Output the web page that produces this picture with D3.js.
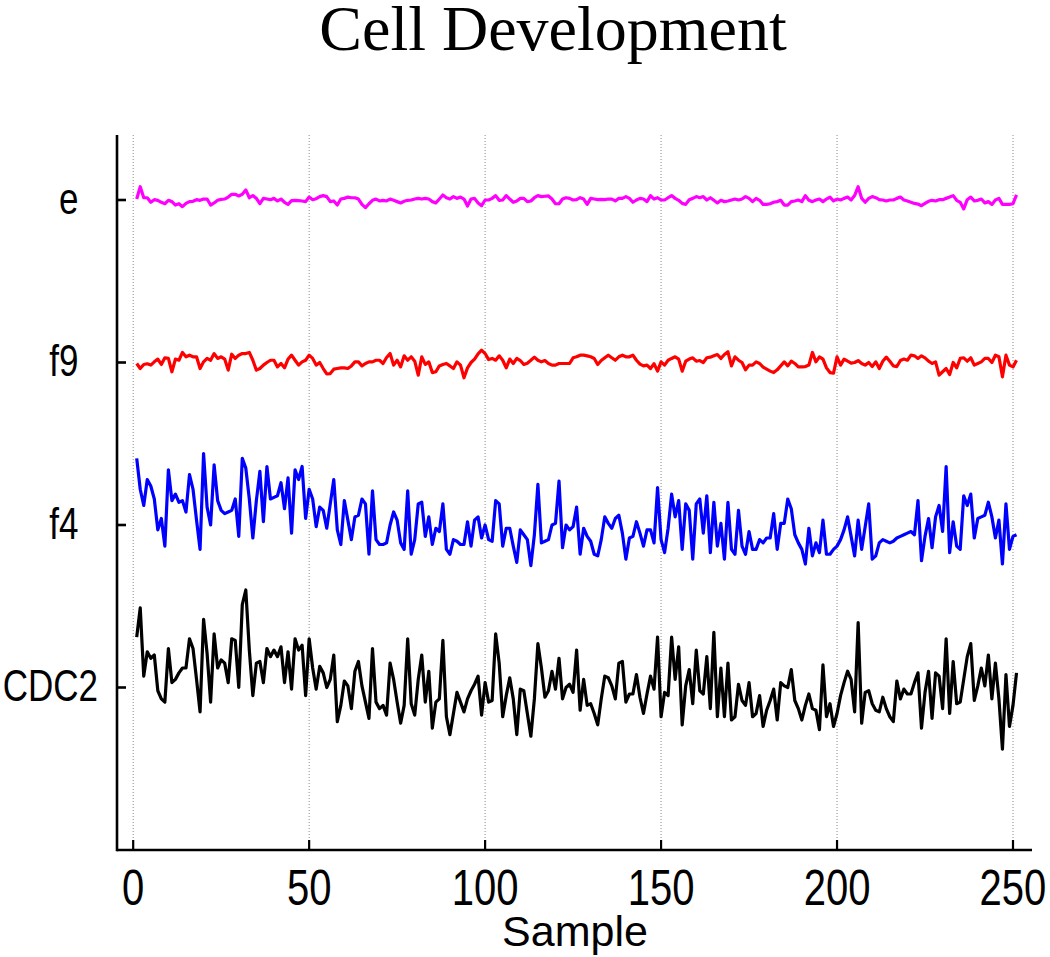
<!DOCTYPE html>
<html>
<head>
<meta charset="utf-8">
<script src="https://cdn.jsdelivr.net/npm/d3@7"></script>
<style>
  html, body { margin: 0; padding: 0; background: #fff; }
  svg { display: block; }
</style>
</head>
<body>
<svg id="chart" width="1050" height="957"></svg>
<script>
// ---------------- data ----------------
const title = "Cell Development";
const xLabel = "Sample";
const xTicks = [0, 50, 100, 150, 200, 250];
const yLevels = [1, 2, 3, 4];
const yTickLabels = ["CDC2", "f4  ", "f9  ", "e  "];
const seriesNames = ["e", "f9", "f4", "CDC2"];
const seriesColors = ["#ff00ff", "#ff0000", "#0000ff", "#000000"];

const eValues = [
4.006,4.082,4.014,4.014,3.986,4.002,3.998,3.986,3.977,3.998,
3.990,3.969,3.977,3.959,3.979,3.990,3.992,4.002,3.998,4.006,
4.006,3.969,3.982,3.998,4.004,4.006,4.018,4.035,4.035,4.025,
4.035,4.062,4.014,4.027,4.010,3.977,4.010,4.006,4.002,4.010,
3.994,4.006,3.986,3.973,3.996,3.998,3.996,3.994,3.990,4.018,
4.002,4.008,4.021,4.027,4.021,3.990,3.994,3.969,4.006,4.010,
4.018,4.014,4.014,4.006,3.973,3.953,3.977,3.998,4.006,3.994,
3.998,3.994,4.006,3.998,3.990,3.982,3.992,3.998,4.000,4.006,
4.010,4.006,4.010,4.006,3.990,3.982,4.006,4.031,4.014,4.006,
4.021,4.010,4.018,4.006,3.963,4.006,4.010,3.982,3.965,4.000,
4.000,4.010,4.027,3.998,4.000,4.027,4.006,3.986,3.994,4.010,
4.010,3.990,3.994,4.014,4.027,4.021,4.023,4.025,4.006,3.977,
3.977,4.006,4.014,4.010,4.000,
4.002,4.014,4.006,3.973,4.010,4.006,4.002,4.004,4.002,4.006,
4.006,3.994,4.010,4.010,4.021,4.010,3.986,4.000,4.010,4.006,
3.990,4.027,4.006,4.014,4.000,4.000,4.014,4.027,4.010,3.998,
3.979,3.973,4.002,4.010,4.021,4.014,4.021,4.000,4.014,3.998,
3.982,3.998,3.990,3.994,4.000,4.006,4.000,4.006,4.021,4.010,
3.990,4.010,3.998,3.973,3.973,3.977,3.986,3.990,3.998,3.969,
3.969,3.990,3.994,4.000,3.990,4.027,3.998,3.990,4.000,4.006,
3.990,4.006,4.018,3.994,4.006,4.000,4.010,4.018,4.000,4.027,
4.082,4.010,3.986,4.010,4.021,4.014,4.002,4.000,3.994,4.000,
4.000,4.010,4.018,4.000,3.994,3.986,3.979,3.975,3.965,3.979,
3.992,3.998,3.994,4.002,4.002,4.010,4.018,4.027,3.998,3.986,
3.945,4.002,4.018,3.994,3.998,4.006,3.982,3.990,3.973,4.000,
4.010,3.973,3.973,3.973,3.977,4.031
];

const f9Values = [
2.994,2.963,2.988,2.992,2.984,3.004,3.021,2.988,3.029,3.025,
2.943,3.021,3.014,3.062,3.035,3.045,3.035,3.035,2.963,3.004,
3.025,3.014,3.055,3.025,3.035,3.021,2.953,3.051,3.025,3.045,
3.055,3.055,3.062,3.014,2.953,2.963,2.984,3.000,3.014,3.014,
2.973,2.994,2.967,3.021,3.045,3.014,2.984,3.004,3.014,3.045,
3.025,2.984,3.000,2.963,2.930,2.932,2.959,2.963,2.967,2.967,
2.963,2.979,3.004,3.004,2.979,2.994,3.004,3.004,3.014,3.014,
2.994,3.031,3.055,2.984,3.014,2.973,3.041,3.014,3.035,3.008,
2.922,3.035,2.988,3.004,2.938,2.943,2.979,2.988,2.994,2.979,
2.963,3.004,2.984,2.906,2.967,3.000,3.021,3.053,3.076,3.055,
3.018,3.025,3.014,3.041,3.014,2.967,3.021,2.994,3.025,3.012,
2.988,2.996,3.014,3.033,3.014,3.004,3.012,2.994,2.984,2.984,
2.994,2.994,2.994,2.994,3.029,
3.035,3.045,3.045,3.041,3.035,3.025,2.988,3.012,3.029,3.045,
3.029,3.014,3.035,3.045,3.035,3.035,3.045,3.014,2.990,2.979,
2.984,2.963,2.992,2.947,3.004,2.984,3.014,3.025,3.035,3.021,
2.947,3.008,3.021,3.029,3.008,3.012,3.000,3.029,3.033,3.041,
3.049,3.025,3.049,3.066,2.979,3.035,3.014,3.000,2.955,2.984,
2.984,3.004,2.994,2.971,2.959,2.947,2.938,2.955,2.979,3.004,
2.979,3.008,2.994,2.973,2.973,2.975,2.984,3.062,3.004,3.035,
3.021,2.967,2.938,2.934,3.035,2.984,3.021,3.008,2.996,3.000,
3.012,2.994,2.984,3.000,2.975,3.004,2.963,3.008,3.033,3.008,
2.979,2.975,3.012,3.021,3.014,3.045,3.041,3.025,3.041,3.029,
3.008,2.994,3.004,2.922,2.943,2.963,2.926,3.000,2.967,3.025,
3.029,3.008,3.029,2.984,2.994,3.004,3.025,3.025,3.000,3.045,
3.035,2.912,3.045,2.984,2.973,3.014
];

const f4Values = [
2.41,2.22,2.12,2.28,2.24,2.16,1.97,2.04,1.87,2.34,
2.15,2.19,2.14,2.15,2.08,2.31,2.22,2.03,1.85,2.44,
2.11,2.00,2.37,2.15,2.09,2.07,2.08,2.09,2.16,1.93,
2.41,2.35,2.16,1.92,2.15,2.33,2.02,2.36,2.16,2.17,
2.18,2.26,2.10,2.29,1.95,2.34,2.28,2.36,2.04,2.22,
2.16,1.99,2.11,2.09,1.98,2.13,2.28,1.97,1.88,2.15,
2.03,1.91,2.05,2.06,2.16,2.13,1.82,2.21,1.91,1.88,
1.88,1.89,2.00,2.08,2.03,1.89,1.85,2.21,1.82,1.91,
2.13,2.14,
1.93,2.05,1.88,1.98,1.96,2.13,1.85,1.82,
1.91,1.90,1.88,1.88,2.02,1.87,2.03,2.05,1.92,2.00,
1.91,1.90,2.15,2.13,1.87,1.98,1.98,1.87,1.77,1.97,
1.94,1.91,1.75,1.94,2.25,1.89,1.90,1.91,2.00,2.01,
2.27,1.86,2.00,1.97,1.99,2.11,1.82,1.98,1.93,1.90,
1.82,1.81,1.91,2.05,2.01,1.98,2.04,2.06,1.95,1.79,
1.92,1.93,2.02,1.95,1.87,1.97,1.97,1.89,2.23,1.91,
1.83,1.98,2.19,2.05,2.15,1.85,2.13,2.09,1.79,2.13,
2.16,1.95,2.18,
1.83,2.14,1.87,2.01,1.79,2.14,1.85,
1.82,2.09,1.87,1.82,1.96,1.85,1.85,1.91,1.89,1.92,
1.92,2.07,1.85,2.01,2.01,2.16,2.10,1.94,1.89,1.85,
1.76,1.98,1.81,1.89,1.83,2.03,1.82,1.82,1.85,1.87,
1.91,1.97,2.05,1.93,1.81,2.03,1.85,1.99,2.13,1.79,
1.81,1.89,1.91,1.90,1.89,1.90,1.92,1.93,1.94,1.95,
1.96,1.94,2.15,1.78,1.93,2.04,1.86,2.05,2.12,1.96,
2.36,1.83,2.02,1.87,1.85,2.18,2.12,2.19,1.92,2.04,
2.05,2.06,2.14,2.05,1.92,2.03,1.76,2.13,1.85,1.93,1.94
];

const cdc2Values = [
1.31,1.49,1.07,1.22,1.18,1.20,0.98,0.93,0.91,1.24,
1.03,1.05,1.09,1.12,1.12,1.30,1.24,1.05,0.85,1.42,
1.21,0.91,1.33,1.12,1.17,1.15,1.03,1.30,1.29,1.00,
1.51,1.60,1.23,0.95,1.15,1.16,1.03,1.24,1.19,1.23,
1.19,1.25,1.03,1.22,0.99,1.30,1.23,1.26,0.95,1.30,
1.12,0.99,1.13,1.09,1.00,1.05,1.20,0.79,0.89,1.04,
1.01,0.87,1.10,1.16,1.01,0.91,0.81,1.24,0.91,0.87,
0.89,0.83,1.15,1.05,0.91,0.78,0.89,1.30,0.90,0.83,
1.05,1.20,
0.91,1.10,0.75,0.91,0.93,1.29,0.82,0.71,
0.84,0.97,0.91,0.85,0.93,0.98,1.02,1.07,0.83,1.03,
0.91,0.92,1.33,1.15,0.82,0.95,1.06,0.93,0.71,0.99,
0.98,0.84,0.70,0.93,1.27,1.12,0.94,0.98,1.10,0.99,
1.18,0.93,1.00,1.02,0.97,1.23,0.86,1.05,0.89,0.90,
0.84,0.77,0.93,1.07,1.06,1.01,0.93,1.15,1.16,0.91,
0.96,0.96,1.08,0.94,0.84,0.96,1.07,0.99,1.31,0.82,
0.97,0.95,1.31,1.05,1.25,0.77,1.01,1.11,0.90,1.23,
0.98,0.96,1.19,
0.87,1.34,0.82,1.12,0.82,1.15,0.80,
0.82,1.02,0.92,0.89,1.03,0.82,0.84,0.95,0.76,0.86,
0.92,0.99,0.80,1.03,1.01,1.00,1.11,0.92,0.87,0.80,
0.89,0.96,0.87,0.86,0.74,1.14,0.82,0.90,0.76,0.84,
0.95,1.03,1.10,1.05,0.85,1.40,0.78,0.97,0.98,0.90,
0.86,0.85,0.94,0.87,0.82,0.79,1.04,0.93,0.99,0.96,
0.96,1.03,1.09,0.75,0.97,1.10,0.81,1.09,1.07,0.87,
1.30,0.84,1.16,0.90,0.91,1.05,1.19,1.27,0.92,1.01,
1.12,1.01,1.20,0.93,1.15,0.93,0.62,1.08,0.76,0.89,1.09
];

const seriesValues = [eValues, f9Values, f4Values, cdc2Values];

// ---------------- drawing ----------------
const svg = d3.select("#chart");
const sans = "'Liberation Sans', Arial, Helvetica, sans-serif";
const serif = "'Liberation Serif', 'Times New Roman', Times, serif";

const x = d3.scaleLinear().domain([-4.6, 255.4]).range([117, 1032]);
const y = d3.scaleLinear().domain([0, 4.4]).range([850, 135]);

// title
svg.append("text")
  .attr("x", 553).attr("y", 50)
  .attr("text-anchor", "middle")
  .style("font-family", serif).style("font-size", "64px")
  .attr("fill", "#000")
  .text(title);

// vertical dotted grid
svg.append("g").selectAll("line").data(xTicks).join("line")
  .attr("x1", d => x(d)).attr("x2", d => x(d))
  .attr("y1", y(4.4)).attr("y2", y(0))
  .attr("stroke", "#8a8a8a").attr("stroke-width", 1)
  .attr("stroke-dasharray", "1,2");

// series lines
const line = d3.line()
  .x((d, i) => x(i + 1))
  .y(d => y(d));

svg.append("g").selectAll("path").data(seriesValues).join("path")
  .attr("d", d => line(d))
  .attr("fill", "none")
  .attr("stroke", (d, i) => seriesColors[i])
  .attr("stroke-width", 3.2)
  .attr("stroke-linejoin", "round");

// axes lines
const axisG = svg.append("g");
axisG.append("line")
  .attr("x1", x.range()[0]).attr("x2", x.range()[1])
  .attr("y1", y(0)).attr("y2", y(0))
  .attr("stroke", "#000").attr("stroke-width", 2.6);
axisG.append("line")
  .attr("x1", x.range()[0]).attr("x2", x.range()[0])
  .attr("y1", y(4.4)).attr("y2", y(0) + 1.3)
  .attr("stroke", "#000").attr("stroke-width", 2.6);

// x ticks (inward)
axisG.selectAll("line.xt").data(xTicks).join("line")
  .attr("class", "xt")
  .attr("x1", d => x(d)).attr("x2", d => x(d))
  .attr("y1", y(0)).attr("y2", y(0) - 10)
  .attr("stroke", "#000").attr("stroke-width", 2.2);

// y ticks (inward)
axisG.selectAll("line.yt").data(yLevels).join("line")
  .attr("class", "yt")
  .attr("x1", x.range()[0]).attr("x2", x.range()[0] + 9)
  .attr("y1", d => y(d)).attr("y2", d => y(d))
  .attr("stroke", "#000").attr("stroke-width", 2.6);

// x tick labels (tall, narrow look)
const sy = 1.25;
axisG.selectAll("text.xl").data(xTicks).join("text")
  .attr("class", "xl")
  .attr("x", d => x(d))
  .attr("y", 905 / sy)
  .attr("transform", `scale(1,${sy})`)
  .attr("text-anchor", "middle")
  .style("font-family", sans).style("font-size", "40px")
  .attr("fill", "#000")
  .text(d => d);

// y tick labels
axisG.selectAll("text.yl").data(yLevels).join("text")
  .attr("class", "yl")
  .attr("x", 98)
  .attr("y", d => (y(d) + 14) / sy)
  .attr("transform", `scale(1,${sy})`)
  .attr("text-anchor", "end")
  .attr("xml:space", "preserve")
  .style("white-space", "pre")
  .style("font-family", sans).style("font-size", "35px")
  .attr("fill", "#000")
  .text((d, i) => yTickLabels[i]);

// x label
svg.append("text")
  .attr("x", 575).attr("y", 946)
  .attr("text-anchor", "middle")
  .style("font-family", sans).style("font-size", "43px")
  .attr("fill", "#000")
  .text(xLabel);
</script>
</body>
</html>
